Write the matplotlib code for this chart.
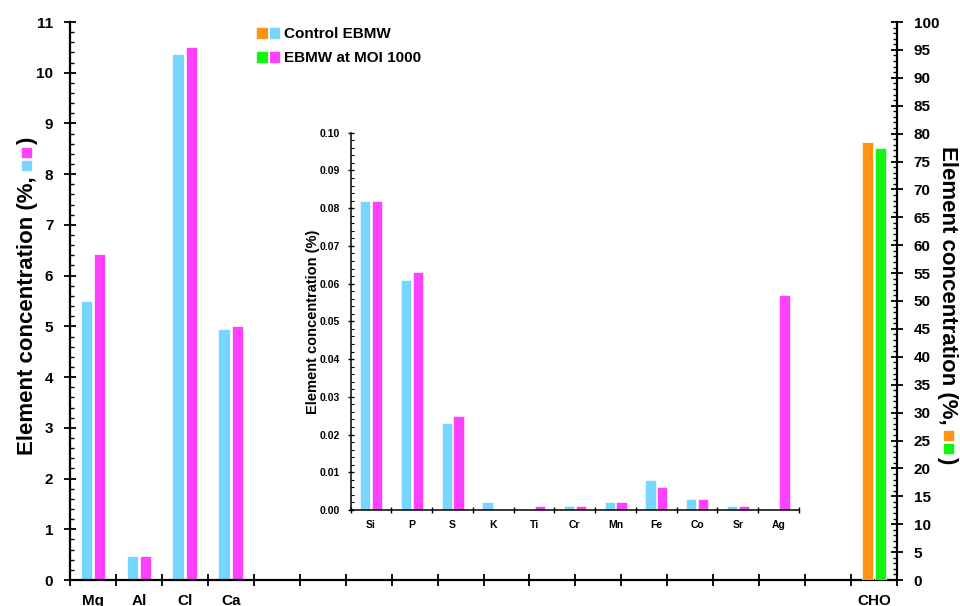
import numpy as np
import matplotlib
matplotlib.use('Agg')
import matplotlib.pyplot as plt
from matplotlib.patches import Patch, Rectangle
from matplotlib.legend_handler import HandlerTuple
from matplotlib.ticker import MultipleLocator, FormatStrFormatter

plt.rcParams['font.family'] = ['Liberation Sans', 'DejaVu Sans']
plt.rcParams['font.weight'] = 'bold'

# data
main_elements = ['Mg', 'Al', 'Cl', 'Ca']
main_ctrl = [5.50, 0.47, 10.37, 4.95]
main_moi = [6.43, 0.47, 10.50, 5.00]
cho_ctrl = 78.5
cho_moi = 77.4

trace_elements = ['Si', 'P', 'S', 'K', 'Ti', 'Cr', 'Mn', 'Fe', 'Co', 'Sr', 'Ag']
trace_ctrl = [0.082, 0.061, 0.023, 0.002, 0.0, 0.001, 0.002, 0.008, 0.003, 0.001, 0.0]
trace_moi = [0.082, 0.063, 0.025, 0.0, 0.001, 0.001, 0.002, 0.006, 0.003, 0.001, 0.057]

n_slots = 18  # categories on the main x axis, CHO in the last one

sky = '#76D6FF'
magenta = '#FF40FF'
orange = '#FF9312'
green = '#14F514'

W, H = 960, 606
fig = plt.figure(figsize=(W / 100, H / 100), dpi=100)

def px(x0, y0, x1, y1):
    # pixel box (top-left origin) -> figure fraction rect
    return [x0 / W, 1 - y1 / H, (x1 - x0) / W, (y1 - y0) / H]

bw = 0.25
off = 0.145

# ---- main axes
ax = fig.add_axes(px(70, 22, 897, 580))
ax2 = ax.twinx()
ax.set_xlim(-0.5, n_slots - 0.5)
ax.set_ylim(0, 11)
ax2.set_ylim(0, 100)

xm = np.arange(len(main_elements))
ax.bar(xm - off, main_ctrl, bw, color=sky, edgecolor='white', linewidth=0.5)
ax.bar(xm + off, main_moi, bw, color=magenta, edgecolor='white', linewidth=0.5)
ax2.bar(n_slots - 1 - off, cho_ctrl, bw, color=orange, edgecolor='white', linewidth=0.5)
ax2.bar(n_slots - 1 + off, cho_moi, bw, color=green, edgecolor='white', linewidth=0.5)

for a in (ax, ax2):
    a.spines['top'].set_visible(False)
    for s in a.spines.values():
        s.set_linewidth(1.6)
ax.spines['right'].set_visible(False)
ax2.spines['left'].set_visible(False)
ax2.spines['bottom'].set_visible(False)

xlabels = main_elements + [''] * (n_slots - 1 - len(main_elements)) + ['CHO']
ax.set_xticks(np.arange(n_slots))
ax.set_xticklabels(xlabels, fontsize=11, fontweight='bold')
ax.set_xticks(np.arange(n_slots + 1) - 0.5, minor=True)
ax.tick_params(axis='x', which='major', length=0, pad=10)
ax.tick_params(axis='x', which='minor', direction='inout', length=8, width=1.3)

ax.yaxis.set_major_locator(MultipleLocator(1))
ax.yaxis.set_minor_locator(MultipleLocator(0.2))
ax.tick_params(axis='y', which='major', direction='inout', length=8, width=1.3,
               labelsize=11, pad=8)
ax.tick_params(axis='y', which='minor', direction='in', length=3, width=1)

ax2.yaxis.set_major_locator(MultipleLocator(5))
ax2.yaxis.set_minor_locator(MultipleLocator(1))
ax2.tick_params(axis='y', which='major', direction='inout', length=8, width=1.3,
                labelsize=11, pad=8)
ax2.tick_params(axis='y', which='minor', direction='in', length=3, width=1)
for lab in ax.get_yticklabels() + ax2.get_yticklabels():
    lab.set_fontweight('bold')

# ---- legend
handles = [(Patch(color=orange), Patch(color=sky)),
           (Patch(color=green), Patch(color=magenta))]
fig.legend(handles, ['Control EBMW', 'EBMW at MOI 1000'],
           handler_map={tuple: HandlerTuple(ndivide=None, pad=0.2)},
           loc='upper left', bbox_to_anchor=(257 / W, 1 - 27.5 / H),
           frameon=False, borderpad=0, borderaxespad=0,
           handlelength=1.45, handleheight=0.62, handletextpad=0.3,
           labelspacing=0.62, prop={'size': 11, 'weight': 'bold'})

# ---- inset
axi = fig.add_axes(px(350.7, 132.7, 799, 510))
axi.set_xlim(-0.5, len(trace_elements) - 0.5)
axi.set_ylim(0, 0.10)
xt = np.arange(len(trace_elements))
axi.bar(xt - off, trace_ctrl, bw, color=sky, edgecolor='white', linewidth=0.4)
axi.bar(xt + off, trace_moi, bw, color=magenta, edgecolor='white', linewidth=0.4)
axi.spines['top'].set_visible(False)
axi.spines['right'].set_visible(False)
for s in ('left', 'bottom'):
    axi.spines[s].set_linewidth(1.1)
axi.set_xticks(xt)
axi.set_xticklabels(trace_elements, fontsize=7.5, fontweight='bold')
axi.set_xticks(np.arange(len(trace_elements) + 1) - 0.5, minor=True)
axi.tick_params(axis='x', which='major', length=0, pad=7)
axi.tick_params(axis='x', which='minor', direction='inout', length=5, width=1)
axi.yaxis.set_major_locator(MultipleLocator(0.01))
axi.yaxis.set_minor_locator(MultipleLocator(0.002))
axi.yaxis.set_major_formatter(FormatStrFormatter('%.2f'))
axi.tick_params(axis='y', which='major', direction='inout', length=5, width=1,
                labelsize=7.5, pad=5)
axi.tick_params(axis='y', which='minor', direction='in', length=2.5, width=0.8)
for lab in axi.get_yticklabels():
    lab.set_fontweight('bold')
axi.set_ylabel('Element concentration (%)', fontsize=10.5, fontweight='bold', labelpad=0)

# ---- y labels with coloured squares
fig.canvas.draw()
renderer = fig.canvas.get_renderer()

def rot_label(x, y, rot, sq_colors):
    # x, y in pixels (top-left origin); text runs up (90) or down (270)
    sign = 1 if rot == 90 else -1
    t = fig.text(x / W, 1 - y / H, 'Element concentration (%,', rotation=rot,
                 rotation_mode='anchor', ha='left', va='baseline',
                 fontsize=16, fontweight='bold')
    bb = t.get_window_extent(renderer)
    end = H - bb.y1 if rot == 90 else H - bb.y0
    pos = end - sign * 6
    for c in sq_colors:
        y0 = pos - 9 if rot == 90 else pos
        x0 = x - 11 if rot == 90 else x + 2
        fig.patches.append(Rectangle((x0 / W, 1 - (y0 + 9) / H), 9 / W, 9 / H,
                                     transform=fig.transFigure, color=c))
        pos = pos - sign * 13
    fig.text(x / W, 1 - (pos + sign * 1) / H, ')', rotation=rot,
             rotation_mode='anchor', ha='left', va='baseline',
             fontsize=16, fontweight='bold')

rot_label(33, 455, 90, [sky, magenta])
rot_label(942, 146, 270, [orange, green])

fig.savefig('out.png', dpi=100)
